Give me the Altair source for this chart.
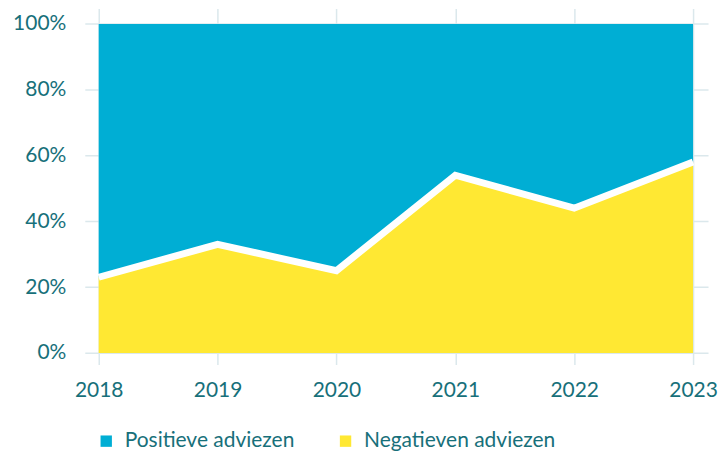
import altair as alt
import pandas as pd

years = [2018, 2019, 2020, 2021, 2022, 2023]
negatief = [23, 33, 25, 54, 44, 58]
positief = [100 - v for v in negatief]
series = ["Positieve adviezen", "Negatieven adviezen"]
colors = ["#00aed4", "#ffe833"]

rows = []
for y, n, p in zip(years, negatief, positief):
    rows.append({"jaar": y, "reeks": series[1], "waarde": n, "volgorde": 0})
    rows.append({"jaar": y, "reeks": series[0], "waarde": p, "volgorde": 1})
df = pd.DataFrame(rows)
line_df = pd.DataFrame({"jaar": years, "waarde": negatief})

FONT = "Lato"
TXT = "#17707a"
GRID = "#dbe8ec"
FS = 21

x_scale = alt.Scale(domain=[2017.883, 2023.126], nice=False, zero=False)
y_scale = alt.Scale(domain=[-3.55, 104.64], nice=False, zero=False)

x_axis = alt.Axis(values=years, format="d", title=None, domain=False, ticks=False,
                  grid=True, gridColor=GRID, gridWidth=1.5, labelPadding=15,
                  labelFontSize=FS, labelColor=TXT, labelFont=FONT)
y_axis = alt.Axis(values=[0, 20, 40, 60, 80, 100], labelExpr="datum.value + '%'",
                  title=None, domain=False, ticks=False, grid=True, gridColor=GRID,
                  gridWidth=1.5, labelPadding=19, labelFontSize=FS, labelColor=TXT,
                  labelFont=FONT)

area = alt.Chart(df).mark_area(opacity=1).encode(
    x=alt.X("jaar:Q", scale=x_scale, axis=x_axis),
    y=alt.Y("waarde:Q", stack="zero", scale=y_scale, axis=y_axis),
    color=alt.Color("reeks:N", scale=alt.Scale(domain=series, range=colors),
                    legend=alt.Legend(title=None, orient="none", direction="horizontal",
                                      legendX=11, legendY=423, symbolType="square",
                                      symbolSize=130, symbolStrokeWidth=0,
                                      labelFontSize=FS, labelColor=TXT, labelFont=FONT,
                                      labelOffset=8, columnPadding=40, labelLimit=400)),
    order=alt.Order("volgorde:Q"),
)

line = alt.Chart(line_df).mark_line(color="white", strokeWidth=7).encode(
    x=alt.X("jaar:Q", scale=x_scale),
    y=alt.Y("waarde:Q", scale=y_scale),
)

chart = alt.layer(area, line).properties(
    width=625, height=357,
    padding={"left": 4, "top": 0, "right": 0, "bottom": 0},
).configure_view(stroke=None)

chart.save("out.html", embed_options={"renderer": "svg", "actions": False})
